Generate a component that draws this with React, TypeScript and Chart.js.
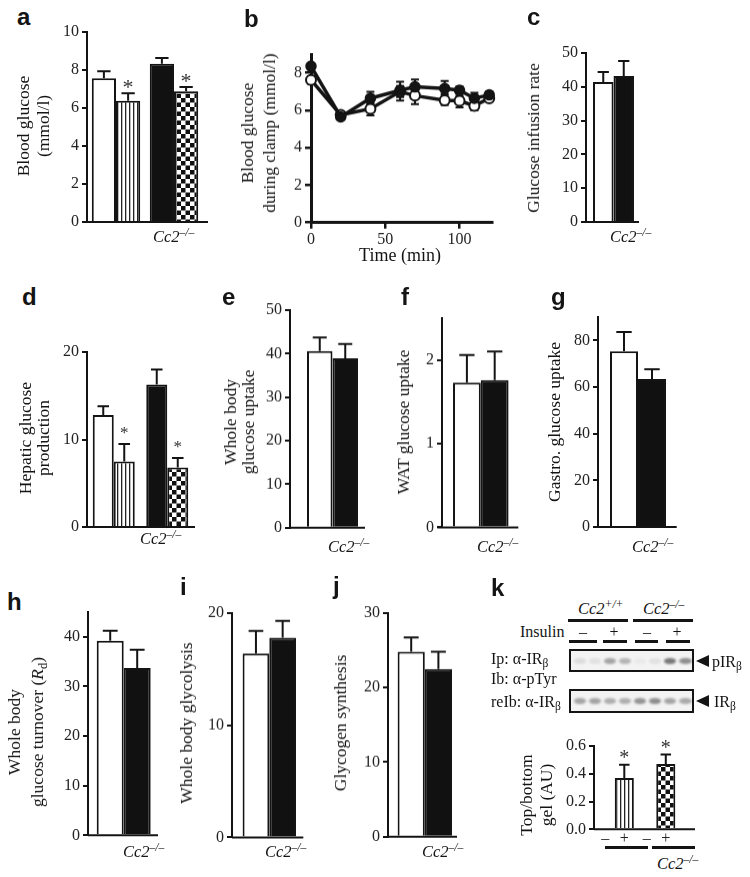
import React, { useEffect, useRef } from 'react';
import { Chart, registerables } from 'chart.js';
Chart.register(...registerables);

// ---------------- data ----------------
const genotypes = ['Cc2+/+', 'Cc2-/-'];
// a: blood glucose (mmol/l), basal vs clamp
const aBasal = [7.56, 8.33];
const aBasalErr = [0.37, 0.3];
const aClamp = [6.38, 6.88];
const aClampErr = [0.39, 0.22];
const aClampSig = [true, true];
// b: blood glucose during clamp
const bTime = [0, 20, 40, 60, 70, 90, 100, 110, 120];
const bKO = [8.35, 5.65, 6.64, 7.07, 7.25, 7.16, 7.07, 6.64, 6.82];
const bKOUp = [0.15, 0.1, 0.35, 0.45, 0.4, 0.4, 0.2, 0.3, 0.2];
const bKODown = [0.15, 0.1, 0.3, 0.55, 0.3, 0.3, 0.2, 0.2, 0.2];
const bWT = [7.62, 5.75, 6.08, 7.0, 6.78, 6.53, 6.5, 6.24, 6.64];
const bWTUp = [0.2, 0.15, 0.3, 0.3, 0.3, 0.2, 0.25, 0.2, 0.15];
const bWTDown = [0.2, 0.15, 0.35, 0.3, 0.45, 0.25, 0.35, 0.25, 0.15];
// c-j: [Cc2+/+, Cc2-/-]
const cGIR = [41.4, 43.2];
const cGIRErr = [3.0, 4.4];
const dBasal = [12.8, 16.3];
const dBasalErr = [1.0, 1.7];
const dClamp = [7.5, 6.8];
const dClampErr = [2.0, 1.1];
const dClampSig = [true, true];
const eUptake = [40.6, 38.9];
const eUptakeErr = [3.1, 3.3];
const fWAT = [1.73, 1.76];
const fWATErr = [0.33, 0.34];
const gGastro = [75.3, 63.4];
const gGastroErr = [8.3, 4.2];
const hRd = [39.2, 33.7];
const hRdErr = [2.0, 3.7];
const iGlycolysis = [16.4, 17.8];
const iGlycolysisErr = [2.0, 1.5];
const jGlycogen = [24.8, 22.5];
const jGlycogenErr = [1.95, 2.3];
// k: top/bottom gel ratio, without / with insulin
const kNoIns = [0.005, 0.005];
const kNoInsErr = [0, 0];
const kIns = [0.37, 0.47];
const kInsErr = [0.095, 0.068];
const kInsSig = [true, true];
const kInsulinTicks = ['–', '+'];
// blot band intensities (8 lanes)
const kBlotP = [0.1, 0.08, 0.35, 0.28, 0.04, 0.08, 0.55, 0.45];
const kBlotTotal = [0.35, 0.35, 0.3, 0.3, 0.42, 0.45, 0.35, 0.33];

// ---------------- styles ----------------
const SERIF = '"Liberation Serif", "Times New Roman", Times, serif';
const SANS = '"Liberation Sans", Arial, Helvetica, sans-serif';
const INK = '#141414';
const TICK = '#222';
const TICK_FONT = { family: SERIF, size: 16 };
Chart.defaults.font.family = SERIF;

function makePatterns() {
  const s = document.createElement('canvas');
  s.width = 4; s.height = 4;
  const sg = s.getContext('2d')!;
  sg.fillStyle = '#fff'; sg.fillRect(0, 0, 4, 4);
  sg.fillStyle = '#222'; sg.fillRect(0, 0, 1.3, 4);
  const c = document.createElement('canvas');
  c.width = 9; c.height = 9;
  const cg = c.getContext('2d')!;
  cg.fillStyle = '#fff'; cg.fillRect(0, 0, 9, 9);
  cg.fillStyle = '#111'; cg.fillRect(0, 0, 4.5, 4.5); cg.fillRect(4.5, 4.5, 4.5, 4.5);
  const tmp = document.createElement('canvas').getContext('2d')!;
  return { stripe: tmp.createPattern(s, 'repeat'), checker: tmp.createPattern(c, 'repeat') };
}

const barDecor = {
  id: 'errbars',
  afterDatasetsDraw(chart: any, _a: any, o: any) {
    const { ctx, chartArea } = chart;
    const ys = chart.scales.y;
    ctx.save();
    ctx.strokeStyle = INK;
    ctx.lineWidth = 2;
    ctx.beginPath();
    ctx.moveTo(chartArea.left - o.xStartPx, chartArea.bottom);
    ctx.lineTo(chartArea.right + o.xEndPx, chartArea.bottom);
    ctx.stroke();
    chart.data.datasets.forEach((ds: any, di: number) => {
      const meta = chart.getDatasetMeta(di);
      meta.data.forEach((bar: any, i: number) => {
        const v = ds.data[i];
        const e = ds.errors ? ds.errors[i] : 0;
        const y0 = ys.getPixelForValue(v);
        const y1 = ys.getPixelForValue(v + e);
        if (e > 0) {
          const cw = bar.width * 0.55;
          ctx.strokeStyle = INK;
          ctx.lineWidth = 2;
          ctx.beginPath();
          ctx.moveTo(bar.x, y0); ctx.lineTo(bar.x, y1);
          ctx.moveTo(bar.x - cw / 2, y1); ctx.lineTo(bar.x + cw / 2, y1);
          ctx.stroke();
        }
        if (ds.stars && ds.stars[i]) {
          ctx.fillStyle = '#333';
          ctx.font = `${o.starSize}px ${SERIF}`;
          ctx.textAlign = 'center';
          ctx.textBaseline = 'alphabetic';
          const m = ctx.measureText('*');
          const off = (m.actualBoundingBoxAscent - m.actualBoundingBoxDescent) / 2;
          ctx.fillText('*', bar.x, y1 - o.starGap + off);
        }
        if (ds.tickText) {
          ctx.fillStyle = TICK;
          ctx.font = `16px ${SERIF}`;
          ctx.textAlign = 'center';
          ctx.textBaseline = 'middle';
          ctx.fillText(ds.tickText, bar.x, chartArea.bottom + o.tickTextOffset);
        }
      });
    });
    ctx.restore();
  },
};

type BarCfg = {
  L: number; R: number; xEnd: number; xStart?: number; yTop: number; yBot: number;
  max: number; step: number; catPct: number; decimals?: number; padBottom?: number;
  labels: string[]; build: (p: any) => any[]; starGap?: number; starSize?: number; tickTextOffset?: number;
};

function BarPanel({ cfg }: { cfg: BarCfg }) {
  const ref = useRef<HTMLCanvasElement>(null);
  const AX = 50, PT = 24;
  const PB = cfg.padBottom ?? 14;
  const rightEdge = Math.max(cfg.R, cfg.xEnd) + 6;
  const w = AX + rightEdge - cfg.L;
  const h = PT + cfg.yBot - cfg.yTop + PB;
  useEffect(() => {
    const pats = makePatterns();
    const chart = new Chart(ref.current!, {
      type: 'bar',
      data: {
        labels: cfg.labels,
        datasets: cfg.build(pats).map((d: any) => ({
          borderColor: INK, borderWidth: 2, categoryPercentage: cfg.catPct, barPercentage: 1, ...d,
        })),
      },
      options: {
        animation: false, responsive: true, maintainAspectRatio: false, events: [],
        layout: { padding: { left: 0, top: PT, right: rightEdge - cfg.R, bottom: PB } },
        plugins: {
          legend: { display: false }, tooltip: { enabled: false },
          errbars: {
            starGap: cfg.starGap ?? 9, starSize: cfg.starSize ?? 20,
            xEndPx: cfg.xEnd - cfg.R, xStartPx: cfg.L - (cfg.xStart ?? cfg.L),
            tickTextOffset: cfg.tickTextOffset ?? 10,
          },
        } as any,
        scales: {
          x: { type: 'category', display: false },
          y: {
            type: 'linear', min: 0, max: cfg.max,
            afterFit: (s: any) => { s.width = AX; },
            ticks: {
              stepSize: cfg.step, includeBounds: false, padding: 3, color: TICK, font: TICK_FONT,
              callback: (v: any) => (cfg.decimals ? Number(v).toFixed(cfg.decimals) : String(v)),
            },
            grid: { display: true, drawOnChartArea: false, drawTicks: true, tickLength: 5, lineWidth: 2, color: INK },
            border: { display: true, width: 2, color: INK },
          },
        },
      } as any,
      plugins: [barDecor as any],
    });
    return () => chart.destroy();
  }, []);
  return (
    <div style={{ position: 'absolute', left: cfg.L - AX, top: cfg.yTop - PT, width: w, height: h }}>
      <canvas ref={ref} />
    </div>
  );
}

const lineErr = {
  id: 'lineErr',
  beforeDatasetsDraw(chart: any) {
    const { ctx } = chart;
    const ys = chart.scales.y;
    ctx.save();
    ctx.strokeStyle = INK;
    ctx.lineWidth = 2;
    chart.data.datasets.forEach((ds: any, di: number) => {
      const meta = chart.getDatasetMeta(di);
      meta.data.forEach((pt: any, i: number) => {
        const v = ds.data[i].y;
        const yu = ys.getPixelForValue(v + ds.errUp[i]);
        const yd = ys.getPixelForValue(v - ds.errDown[i]);
        ctx.beginPath();
        ctx.moveTo(pt.x, yu); ctx.lineTo(pt.x, yd);
        ctx.moveTo(pt.x - 4, yu); ctx.lineTo(pt.x + 4, yu);
        ctx.moveTo(pt.x - 4, yd); ctx.lineTo(pt.x + 4, yd);
        ctx.stroke();
      });
    });
    ctx.restore();
  },
};

function LinePanel() {
  const ref = useRef<HTMLCanvasElement>(null);
  const L = 311, R = 492.2, yTop = 54, yBot = 221.7;
  const AX = 50, PT = 20, XH = 30, PR = 10;
  const w = AX + (R - L) + PR;
  const h = PT + (yBot - yTop) + XH + 2;
  useEffect(() => {
    const chart = new Chart(ref.current!, {
      type: 'line',
      data: {
        datasets: [
          {
            data: bTime.map((t, i) => ({ x: t, y: bKO[i] })), errUp: bKOUp, errDown: bKODown,
            borderColor: INK, borderWidth: 3.5, pointRadius: 5, pointBackgroundColor: INK,
            pointBorderColor: INK, pointBorderWidth: 1.5, clip: false, tension: 0,
          },
          {
            data: bTime.map((t, i) => ({ x: t, y: bWT[i] })), errUp: bWTUp, errDown: bWTDown,
            borderColor: INK, borderWidth: 3.5, pointRadius: 5, pointBackgroundColor: '#fff',
            pointBorderColor: INK, pointBorderWidth: 2, clip: false, tension: 0,
          },
        ] as any,
      },
      options: {
        animation: false, responsive: true, maintainAspectRatio: false, events: [],
        layout: { padding: { left: 0, top: PT, right: PR, bottom: 2 } },
        plugins: { legend: { display: false }, tooltip: { enabled: false } },
        scales: {
          x: {
            type: 'linear', min: 0, max: 122,
            afterFit: (s: any) => { s.height = XH; },
            ticks: { stepSize: 50, includeBounds: false, padding: 1, color: TICK, font: TICK_FONT, maxRotation: 0 },
            grid: { display: true, drawOnChartArea: false, drawTicks: true, tickLength: 6, lineWidth: 2.5, color: INK },
            border: { display: true, width: 3, color: INK },
          },
          y: {
            type: 'linear', min: 0, max: 9,
            afterFit: (s: any) => { s.width = AX; },
            ticks: { stepSize: 2, includeBounds: false, padding: 3, color: TICK, font: TICK_FONT },
            grid: { display: true, drawOnChartArea: false, drawTicks: true, tickLength: 6, lineWidth: 2.5, color: INK },
            border: { display: true, width: 3, color: INK },
          },
        },
      } as any,
      plugins: [lineErr as any],
    });
    return () => chart.destroy();
  }, []);
  return (
    <div style={{ position: 'absolute', left: L - AX, top: yTop - PT, width: w, height: h }}>
      <canvas ref={ref} />
    </div>
  );
}

// ---------------- text helpers ----------------
function Txt({ x, b, size, sans, bold, italic, center, children }: any) {
  const k = sans ? 0.8465 : 0.8375;
  return (
    <div
      style={{
        position: 'absolute', left: x, top: b - k * size, fontFamily: sans ? SANS : SERIF,
        fontSize: size, lineHeight: size + 'px', fontWeight: bold ? 700 : 400,
        fontStyle: italic ? 'italic' : 'normal', whiteSpace: 'nowrap', color: INK,
        transform: center ? 'translateX(-50%)' : undefined,
      }}
    >
      {children}
    </div>
  );
}

const supS: any = { fontSize: '0.7em', position: 'relative', top: '-0.5em', verticalAlign: 'baseline' };
const subS: any = { fontSize: '0.72em', position: 'relative', top: '0.3em', verticalAlign: 'baseline' };

function Letter({ x, b, t }: any) {
  return <Txt x={x} b={b} size={24} sans bold>{t}</Txt>;
}
function KO({ x, b, sup = '–/–' }: any) {
  return <Txt x={x} b={b} size={16.5} italic>Cc2<span style={supS}>{sup}</span></Txt>;
}
function VTitle({ cx, cy, lh = 20, size = 17.5, children }: any) {
  return (
    <div
      style={{
        position: 'absolute', left: cx - 2, top: cy, transform: 'translate(-50%,-50%) rotate(-90deg)',
        fontFamily: SERIF, fontSize: size, lineHeight: lh + 'px', whiteSpace: 'nowrap',
        textAlign: 'center', color: INK,
      }}
    >
      {children}
    </div>
  );
}
function Bar({ x, y, w, h = 3 }: any) {
  return <div style={{ position: 'absolute', left: x, top: y, width: w, height: h, background: INK }} />;
}
function Arrow({ x, y }: any) {
  return (
    <div style={{ position: 'absolute', left: x, top: y - 6, width: 0, height: 0,
      borderTop: '6px solid transparent', borderBottom: '6px solid transparent', borderRight: `13px solid ${INK}` }} />
  );
}
function Blot({ x, y, w, h, bands }: any) {
  const lane = (w - 4) / bands.length;
  return (
    <div style={{ position: 'absolute', left: x, top: y, width: w, height: h, boxSizing: 'border-box',
      border: `2px solid ${INK}`, background: '#f3f3f3', overflow: 'hidden' }}>
      {bands.map((a: number, i: number) => (
        <div key={i} style={{ position: 'absolute', left: 1 + i * lane + 1.5, top: (h - 4) / 2 - 3,
          width: lane - 3, height: 6, borderRadius: '50%', background: `rgba(20,20,20,${a})`, filter: 'blur(1.2px)' }} />
      ))}
    </div>
  );
}

// ---------------- panel configs ----------------
const single = (vals: number[], errs: number[]) => () => [
  { data: [vals[0]], errors: [errs[0]], backgroundColor: '#fff' },
  { data: [vals[1]], errors: [errs[1]], backgroundColor: '#111' },
];

const panels: BarCfg[] = [
  { // a
    L: 87, R: 203, xEnd: 208, yTop: 32, yBot: 222, max: 10, step: 2, catPct: 0.835, labels: genotypes,
    starGap: 9, starSize: 22,
    build: (p: any) => [
      { data: aBasal, errors: aBasalErr, backgroundColor: ['#fff', '#111'] },
      { data: aClamp, errors: aClampErr, stars: aClampSig, backgroundColor: [p.stripe, p.checker] },
    ],
  },
  { L: 586, R: 641, xEnd: 639, yTop: 52.7, yBot: 221.7, max: 50, step: 10, catPct: 0.745, labels: [''], build: single(cGIR, cGIRErr) },
  { // d
    L: 87, R: 194, xEnd: 195, yTop: 351.7, yBot: 526.7, max: 20, step: 10, catPct: 0.785, labels: genotypes,
    starGap: 13, starSize: 17,
    build: (p: any) => [
      { data: dBasal, errors: dBasalErr, backgroundColor: ['#fff', '#111'] },
      { data: dClamp, errors: dClampErr, stars: dClampSig, backgroundColor: [p.stripe, p.checker] },
    ],
  },
  { L: 290, R: 375, xEnd: 365, yTop: 310, yBot: 526.7, max: 50, step: 10, catPct: 0.6, labels: [''], build: single(eUptake, eUptakeErr) },
  { L: 441.7, R: 519.3, xEnd: 518, xStart: 437, yTop: 318.3, yBot: 526.7, max: 2.5, step: 1, catPct: 0.716, labels: [''], build: single(fWAT, fWATErr) },
  { L: 598, R: 678, xEnd: 676.7, yTop: 316.7, yBot: 526.7, max: 90, step: 20, catPct: 0.7, labels: [''], build: single(gGastro, gGastroErr) },
  { L: 88, R: 159.4, xEnd: 158, yTop: 611.7, yBot: 835, max: 45, step: 10, catPct: 0.756, labels: [''], build: single(hRd, hRdErr) },
  { L: 231.7, R: 306.3, xEnd: 303, yTop: 613.3, yBot: 836.7, max: 20, step: 10, catPct: 0.716, labels: [''], build: single(iGlycolysis, iGlycolysisErr) },
  { L: 387.7, R: 461.3, xEnd: 456.7, yTop: 613.3, yBot: 836, max: 30, step: 10, catPct: 0.739, labels: [''], build: single(jGlycogen, jGlycogenErr) },
  { // k
    L: 594, R: 677, xEnd: 695, yTop: 746, yBot: 829.3, max: 0.6, step: 0.2, catPct: 0.92, decimals: 1,
    labels: genotypes, padBottom: 22, starGap: 11, starSize: 20, tickTextOffset: 9,
    build: (p: any) => [
      { data: kNoIns, errors: kNoInsErr, tickText: kInsulinTicks[0], backgroundColor: ['#fff', '#111'] },
      { data: kIns, errors: kInsErr, stars: kInsSig, tickText: kInsulinTicks[1], backgroundColor: [p.stripe, p.checker] },
    ],
  },
];

export default function App() {
  useEffect(() => { document.body.style.margin = '0'; }, []);
  return (
    <div style={{ position: 'absolute', left: 0, top: 0, width: 750, height: 877, background: '#fff', overflow: 'hidden' }}>
      {panels.map((c, i) => <BarPanel key={i} cfg={c} />)}
      <LinePanel />

      <Letter x={17} b={25} t="a" />
      <Letter x={244} b={27} t="b" />
      <Letter x={527} b={25} t="c" />
      <Letter x={22} b={305} t="d" />
      <Letter x={222} b={305} t="e" />
      <Letter x={401} b={305} t="f" />
      <Letter x={551} b={305} t="g" />
      <Letter x={7} b={610} t="h" />
      <Letter x={180} b={595} t="i" />
      <Letter x={333} b={594} t="j" />
      <Letter x={491} b={596} t="k" />

      <VTitle cx={35} cy={126} lh={20}>Blood glucose<br />(mmol/l)</VTitle>
      <VTitle cx={260} cy={133} lh={22}>Blood glucose<br />during clamp (mmol/l)</VTitle>
      <Txt x={400} b={261} size={18} center>Time (min)</Txt>
      <VTitle cx={535} cy={138}>Glucose infusion rate</VTitle>
      <VTitle cx={36} cy={438} lh={18}>Hepatic glucose<br />production</VTitle>
      <VTitle cx={241} cy={422} lh={18}>Whole body<br />glucose uptake</VTitle>
      <VTitle cx={405} cy={422}>WAT glucose uptake</VTitle>
      <VTitle cx={556} cy={422}>Gastro. glucose uptake</VTitle>
      <VTitle cx={29} cy={732} lh={23}>Whole body<br />glucose turnover (<i>R</i><span style={subS}>d</span>)</VTitle>
      <VTitle cx={188} cy={723}>Whole body glycolysis</VTitle>
      <VTitle cx={342} cy={723}>Glycogen synthesis</VTitle>
      <VTitle cx={538} cy={795} lh={20}>Top/bottom<br />gel (AU)</VTitle>

      <KO x={153} b={243} />
      <KO x={610} b={243} />
      <KO x={140} b={545} />
      <KO x={328} b={553} />
      <KO x={477} b={553} />
      <KO x={632} b={553} />
      <KO x={123} b={858} />
      <KO x={265} b={858} />
      <KO x={422} b={858} />
      <KO x={657} b={870} />

      {/* panel k blot annotations */}
      <KO x={578} b={615} sup="+/+" />
      <Bar x={568} y={619} w={60} />
      <KO x={643} b={615} />
      <Bar x={633} y={619} w={60} />
      <Txt x={520} b={637} size={16}>Insulin</Txt>
      <Txt x={583} b={637} size={16} center>–</Txt>
      <Txt x={614} b={637} size={16} center>+</Txt>
      <Txt x={647} b={637} size={16} center>–</Txt>
      <Txt x={677} b={637} size={16} center>+</Txt>
      <Bar x={569} y={640} w={28} />
      <Bar x={603} y={640} w={24} />
      <Bar x={635} y={640} w={23} />
      <Bar x={666} y={640} w={24} />
      <Blot x={569} y={649} w={125} h={23} bands={kBlotP} />
      <Blot x={569} y={689} w={125} h={24} bands={kBlotTotal} />
      <Arrow x={696} y={661} />
      <Arrow x={696} y={701} />
      <Txt x={712} b={667} size={16}>pIR<span style={subS}>β</span></Txt>
      <Txt x={714} b={707} size={16}>IR<span style={subS}>β</span></Txt>
      <Txt x={491} b={664} size={16}>Ip: α-IR<span style={subS}>β</span></Txt>
      <Txt x={491} b={684} size={16}>Ib: α-pTyr</Txt>
      <Txt x={491} b={707} size={16}>reIb: α-IR<span style={subS}>β</span></Txt>
      <Bar x={605} y={846} w={43} />
      <Bar x={652} y={846} w={43} />
    </div>
  );
}
